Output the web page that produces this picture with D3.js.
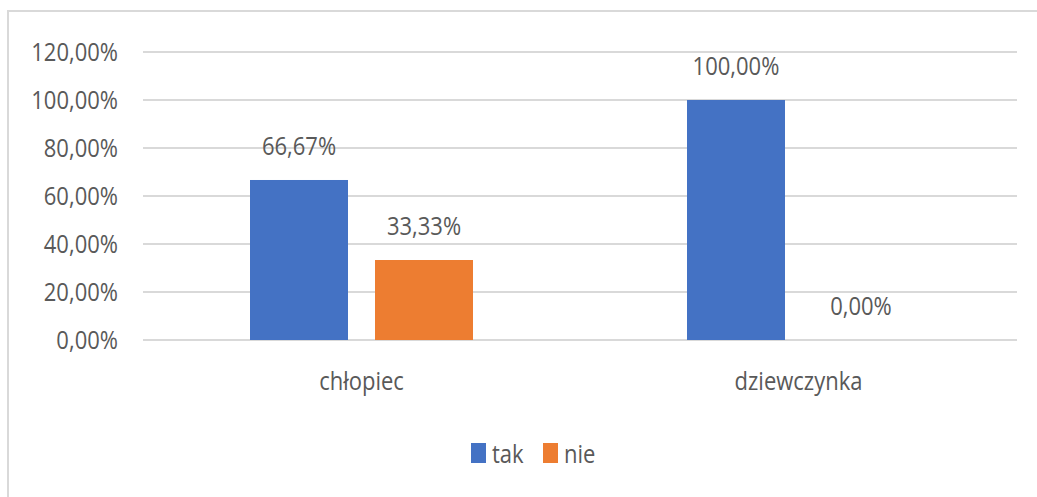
<!DOCTYPE html>
<html>
<head>
<meta charset="utf-8">
<script src="https://cdn.jsdelivr.net/npm/d3@7"></script>
<style>
    body { margin: 0; background: #fff; }
    svg text { font-family: "Open Sans", "Liberation Sans", sans-serif; fill: #595959; }
</style>
</head>
<body>
<div id="chart"></div>
<script>
// Chart data
const categories = ['chłopiec', 'dziewczynka'];
const seriesNames = ['tak', 'nie'];
const takValues = [0.6667, 1.0];
const nieValues = [0.3333, 0.0];
const yTicks = [0, 0.2, 0.4, 0.6, 0.8, 1.0, 1.2];
const colors = { tak: '#4472c4', nie: '#ed7d31' };

const width = 1037, height = 497;
const fontSize = 25;
const squeeze = 0.88; // narrow the glyphs, Calibri-like

const svg = d3.select('#chart').append('svg')
    .attr('width', width)
    .attr('height', height);

// Outer frame
svg.append('rect')
    .attr('x', 8).attr('y', 11)
    .attr('width', width + 20).attr('height', height + 20)
    .attr('fill', 'none')
    .attr('stroke', '#d9d9d9')
    .attr('stroke-width', 2);

const x0 = d3.scaleBand().domain(categories).range([143, 1017]).padding(0);
const x1 = d3.scaleBand().domain(seriesNames).range([107, 330]).paddingInner(0.216);
const y = d3.scaleLinear().domain([0, 1.2]).range([340, 52]);

const fmt = v => d3.format('.2f')(v * 100).replace('.', ',') + '%';

// Squeeze a text element horizontally
function narrow(sel) {
    sel.each(function () {
        const w = this.getComputedTextLength();
        d3.select(this)
            .attr('textLength', w * squeeze)
            .attr('lengthAdjust', 'spacingAndGlyphs');
    });
}

// Gridlines
svg.append('g').selectAll('line')
    .data(yTicks)
    .join('line')
    .attr('x1', 143).attr('x2', 1017)
    .attr('y1', d => y(d)).attr('y2', d => y(d))
    .attr('stroke', '#d9d9d9')
    .attr('stroke-width', 2);

// Y axis labels
svg.append('g').selectAll('text')
    .data(yTicks)
    .join('text')
    .attr('x', 118)
    .attr('y', d => y(d))
    .attr('dy', '0.36em')
    .attr('text-anchor', 'end')
    .attr('font-size', fontSize)
    .text(fmt)
    .call(narrow);

// Bars
const rows = categories.map((c, i) => ({ cat: c, tak: takValues[i], nie: nieValues[i] }));

const groups = svg.append('g').selectAll('g')
    .data(rows)
    .join('g')
    .attr('transform', d => `translate(${x0(d.cat)},0)`);

groups.selectAll('rect')
    .data(d => seriesNames.map(s => ({ key: s, value: d[s] })))
    .join('rect')
    .attr('x', d => x1(d.key))
    .attr('y', d => y(d.value))
    .attr('width', x1.bandwidth())
    .attr('height', d => y(0) - y(d.value))
    .attr('fill', d => colors[d.key]);

groups.selectAll('text')
    .data(d => seriesNames.map(s => ({ key: s, value: d[s] })))
    .join('text')
    .attr('x', d => x1(d.key) + x1.bandwidth() / 2)
    .attr('y', d => y(d.value) - 25)
    .attr('text-anchor', 'middle')
    .attr('font-size', fontSize)
    .text(d => fmt(d.value))
    .call(narrow);

// Category labels
svg.append('g').selectAll('text')
    .data(categories)
    .join('text')
    .attr('x', d => x0(d) + x0.bandwidth() / 2)
    .attr('y', 390)
    .attr('text-anchor', 'middle')
    .attr('font-size', fontSize)
    .text(d => d)
    .call(narrow);

// Legend
const legendX = [471, 543];
const legend = svg.append('g').selectAll('g')
    .data(seriesNames)
    .join('g')
    .attr('transform', (d, i) => `translate(${legendX[i]},443)`);

legend.append('rect')
    .attr('width', 15).attr('height', 20)
    .attr('fill', d => colors[d]);

legend.append('text')
    .attr('x', 21).attr('y', 20)
    .attr('font-size', fontSize)
    .text(d => d)
    .call(narrow);
</script>
</body>
</html>
